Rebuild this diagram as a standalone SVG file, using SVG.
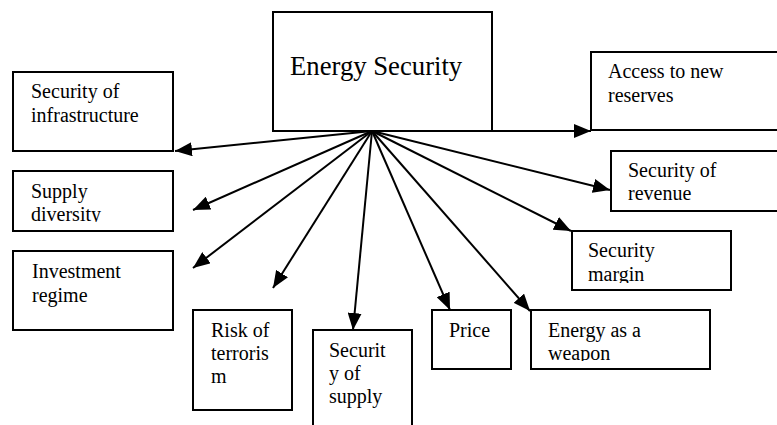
<svg xmlns="http://www.w3.org/2000/svg" width="777" height="425" viewBox="0 0 777 425">
<style>
.box{fill:#fff;stroke:#000;stroke-width:2}
.t{font-family:'Liberation Serif','Times New Roman',Times,serif;font-size:20px;fill:#000}
.big{font-size:26.7px}
.c{stroke:#000;stroke-width:2;fill:none;marker-end:url(#ah)}
</style>
<defs>
<marker id="ah" markerUnits="userSpaceOnUse" markerWidth="17" markerHeight="14" refX="17" refY="7" orient="auto" viewBox="0 0 17 14">
<path d="M0,0 L17,7 L0,14 z" fill="#000"/>
</marker>
<clipPath id="cSup"><rect x="13" y="171" width="160" height="51"/></clipPath>
<clipPath id="cMar"><rect x="572" y="231" width="159" height="52"/></clipPath>
<clipPath id="cWea"><rect x="531" y="310" width="179" height="51"/></clipPath>
</defs>
<rect width="777" height="425" fill="#fff"/>
<g id="energy-security">
<rect class="box" x="273" y="12" width="219" height="119"/>
<text class="t big" x="290" y="75">Energy Security</text>
</g>
<g id="security-of-infrastructure">
<rect class="box" x="13" y="72" width="160" height="79"/>
<text class="t" x="31" y="98">Security of</text>
<text class="t" x="31" y="122">infrastructure</text>
</g>
<g id="supply-diversity">
<rect class="box" x="13" y="171" width="160" height="60"/>
<g clip-path="url(#cSup)">
<text class="t" x="31" y="198">Supply</text>
<text class="t" x="31" y="221">diversity</text>
</g>
</g>
<g id="investment-regime">
<rect class="box" x="13" y="251" width="160" height="79"/>
<text class="t" x="32" y="278">Investment</text>
<text class="t" x="32" y="302">regime</text>
</g>
<g id="risk-of-terrorism">
<rect class="box" x="193" y="310" width="99" height="100"/>
<text class="t" x="211" y="337">Risk of</text>
<text class="t" x="211" y="360">terroris</text>
<text class="t" x="211" y="383">m</text>
</g>
<g id="security-of-supply">
<rect class="box" x="313" y="330" width="99" height="100"/>
<text class="t" x="329" y="357">Securit</text>
<text class="t" x="329" y="380">y of</text>
<text class="t" x="329" y="403">supply</text>
</g>
<g id="price">
<rect class="box" x="432" y="310" width="79" height="59"/>
<text class="t" x="449" y="337">Price</text>
</g>
<g id="energy-as-a-weapon">
<rect class="box" x="531" y="310" width="179" height="59"/>
<g clip-path="url(#cWea)">
<text class="t" x="548" y="337">Energy as a</text>
<text class="t" x="548" y="360">weapon</text>
</g>
</g>
<g id="security-margin">
<rect class="box" x="572" y="231" width="159" height="59"/>
<g clip-path="url(#cMar)">
<text class="t" x="588" y="257">Security</text>
<text class="t" x="588" y="281">margin</text>
</g>
</g>
<g id="security-of-revenue">
<rect class="box" x="611" y="151" width="180" height="60"/>
<text class="t" x="628" y="177">Security of</text>
<text class="t" x="628" y="200">revenue</text>
</g>
<g id="access-to-new-reserves">
<rect class="box" x="591" y="52" width="200" height="78"/>
<text class="t" x="608" y="78">Access to new</text>
<text class="t" x="608" y="102">reserves</text>
</g>
<g id="connectors">
<line class="c" x1="372" y1="131" x2="175" y2="151"/>
<line class="c" x1="372" y1="131" x2="193" y2="210"/>
<line class="c" x1="372" y1="131" x2="193" y2="268"/>
<line class="c" x1="372" y1="131" x2="273" y2="288"/>
<line class="c" x1="372" y1="131" x2="353" y2="330"/>
<line class="c" x1="372" y1="131" x2="450" y2="310"/>
<line class="c" x1="372" y1="131" x2="530" y2="311"/>
<line class="c" x1="372" y1="131" x2="571" y2="231"/>
<line class="c" x1="372" y1="131" x2="610" y2="190"/>
<line class="c" x1="372" y1="131" x2="591" y2="131"/>
</g>
</svg>
